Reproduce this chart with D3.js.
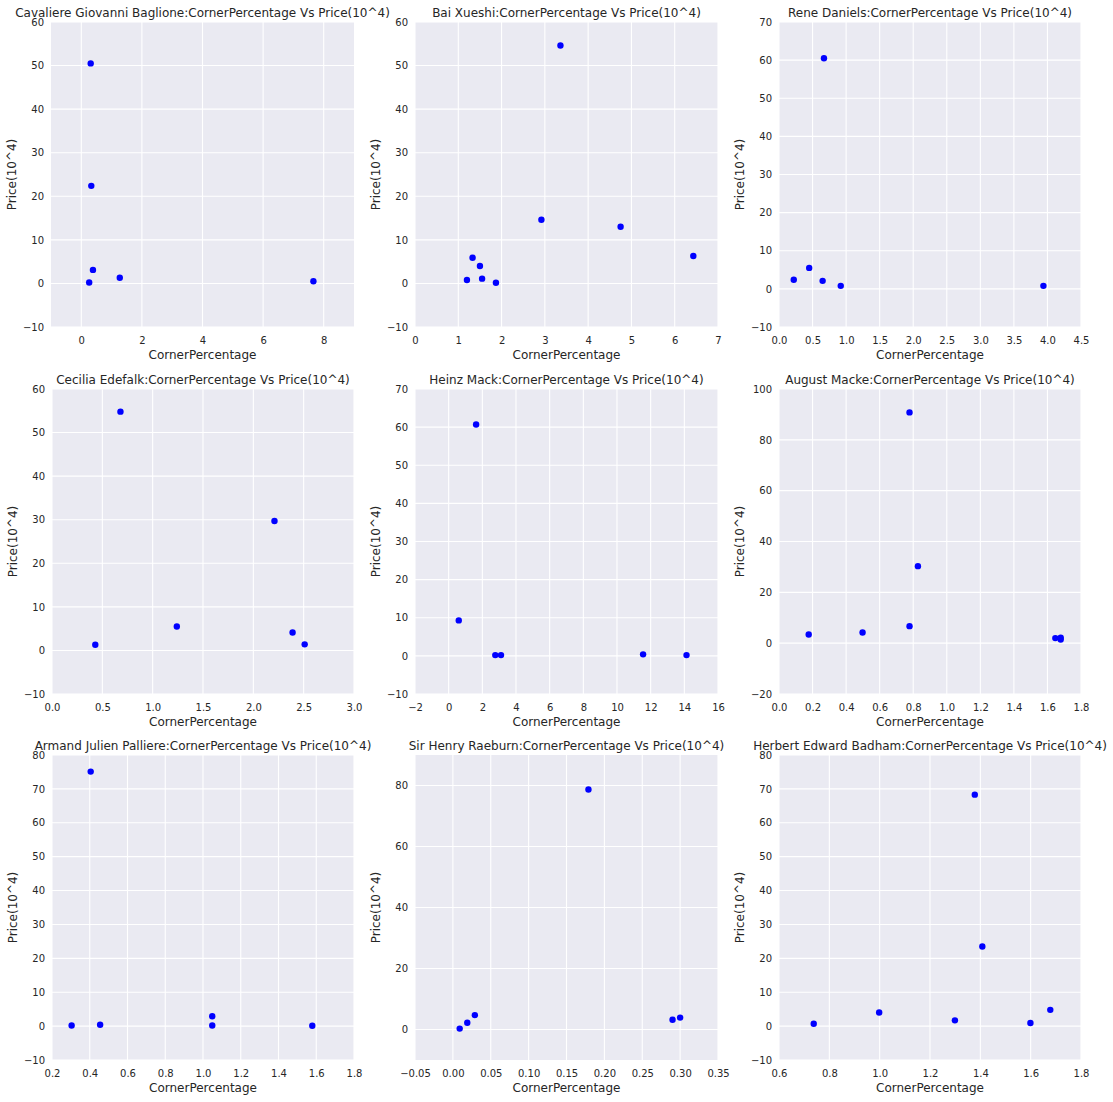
<!DOCTYPE html>
<html>
<head>
<meta charset="utf-8">
<script src="https://cdn.jsdelivr.net/npm/d3@7"></script>
<style>
  body { margin: 0; background: #fff; }
  svg text { font-family: "DejaVu Sans", sans-serif; fill: #262626; }
</style>
</head>
<body>
<svg id="chart" width="1113" height="1102"></svg>
<script>
// one entry per artist, row by row
const artists = [
  "Cavaliere Giovanni Baglione", "Bai Xueshi", "Rene Daniels",
  "Cecilia Edefalk", "Heinz Mack", "August Macke",
  "Armand Julien Palliere", "Sir Henry Raeburn", "Herbert Edward Badham"
];

const cornerPct = [
  [0.31, 0.33, 0.385, 0.26, 1.27, 7.66],
  [3.36, 2.92, 4.75, 6.43, 1.33, 1.50, 1.20, 1.55, 1.87],
  [0.67, 0.22, 0.45, 0.65, 0.92, 3.94],
  [0.68, 0.43, 1.24, 2.21, 2.39, 2.51],
  [1.63, 0.60, 2.77, 3.11, 11.55, 14.13],
  [0.778, 0.828, 0.778, 0.177, 0.498, 1.647, 1.679, 1.679],
  [0.405, 0.304, 0.455, 1.049, 1.049, 1.579],
  [0.179, 0.009, 0.019, 0.029, 0.290, 0.300],
  [1.378, 1.408, 0.738, 0.998, 1.299, 1.599, 1.678]
];

const prices = [
  [50.5, 22.4, 3.1, 0.2, 1.3, 0.5],
  [54.6, 14.6, 13.0, 6.3, 5.9, 4.0, 0.8, 1.1, 0.15],
  [60.5, 2.4, 5.5, 2.1, 0.8, 0.8],
  [54.8, 1.3, 5.5, 29.7, 4.1, 1.4],
  [60.7, 9.3, 0.2, 0.2, 0.4, 0.2],
  [90.8, 30.3, 6.7, 3.4, 4.2, 2.0, 2.2, 1.4],
  [75.1, 0.2, 0.4, 2.9, 0.2, 0.1],
  [78.7, 0.3, 2.2, 4.7, 3.2, 3.9],
  [68.3, 23.5, 0.7, 4.0, 1.7, 0.9, 4.8]
];

// axis ranges and ticks as shown in each panel
const xDomains = [[-1, 9], [0, 7], [0, 4.5], [0, 3], [-2, 16], [0, 1.8], [0.2, 1.8], [-0.05, 0.35], [0.6, 1.8]];
const yDomains = [[-10, 60], [-10, 60], [-10, 70], [-10, 60], [-10, 70], [-20, 100], [-10, 80], [-10, 90], [-10, 80]];
const xTicks = [
  [0, 2, 4, 6, 8],
  [0, 1, 2, 3, 4, 5, 6, 7],
  [0, 0.5, 1, 1.5, 2, 2.5, 3, 3.5, 4, 4.5],
  [0, 0.5, 1, 1.5, 2, 2.5, 3],
  [-2, 0, 2, 4, 6, 8, 10, 12, 14, 16],
  [0, 0.2, 0.4, 0.6, 0.8, 1, 1.2, 1.4, 1.6, 1.8],
  [0.2, 0.4, 0.6, 0.8, 1, 1.2, 1.4, 1.6, 1.8],
  [-0.05, 0, 0.05, 0.1, 0.15, 0.2, 0.25, 0.3, 0.35],
  [0.6, 0.8, 1, 1.2, 1.4, 1.6, 1.8]
];
const xTickDigits = [0, 0, 1, 1, 0, 1, 1, 2, 1];
const yTicks = [
  [-10, 0, 10, 20, 30, 40, 50, 60],
  [-10, 0, 10, 20, 30, 40, 50, 60],
  [-10, 0, 10, 20, 30, 40, 50, 60, 70],
  [-10, 0, 10, 20, 30, 40, 50, 60],
  [-10, 0, 10, 20, 30, 40, 50, 60, 70],
  [-20, 0, 20, 40, 60, 80, 100],
  [-10, 0, 10, 20, 30, 40, 50, 60, 70, 80],
  [0, 20, 40, 60, 80],
  [-10, 0, 10, 20, 30, 40, 50, 60, 70, 80]
];

// grid layout (pixels)
const colLeft = [51, 415, 779];
const colWidth = [303, 303, 302];
const rowTop = [22, 389, 755];
const plotH = 305;

const svg = d3.select("#chart");
const fmtMinus = s => s.replace("-", "\u2212");

artists.forEach((name, i) => {
  const col = i % 3, row = Math.floor(i / 3);
  const left = colLeft[col] + (col === 0 && row > 0 ? 1 : 0);
  const top = rowTop[row];
  const w = colWidth[col] - (col === 0 && row > 0 ? 1 : 0);

  const x = d3.scaleLinear().domain(xDomains[i]).range([0, w]);
  const y = d3.scaleLinear().domain(yDomains[i]).range([plotH, 0]);

  const g = svg.append("g").attr("transform", `translate(${left},${top})`);

  g.append("rect")
    .attr("width", w).attr("height", plotH)
    .attr("fill", "#EAEAF2");

  // grid lines
  g.selectAll(".vgrid").data(xTicks[i]).join("line")
    .attr("x1", d => x(d)).attr("x2", d => x(d))
    .attr("y1", 0).attr("y2", plotH)
    .attr("stroke", "#fff").attr("stroke-width", 1.1);
  g.selectAll(".hgrid").data(yTicks[i]).join("line")
    .attr("x1", 0).attr("x2", w)
    .attr("y1", d => y(d)).attr("y2", d => y(d))
    .attr("stroke", "#fff").attr("stroke-width", 1.1);

  // tick labels via d3 axes, no lines
  const xAxis = d3.axisBottom(x).tickValues(xTicks[i]).tickSize(0).tickPadding(10)
    .tickFormat(d => fmtMinus(d3.format(`.${xTickDigits[i]}f`)(d)));
  const yAxis = d3.axisLeft(y).tickValues(yTicks[i]).tickSize(0).tickPadding(7)
    .tickFormat(d => fmtMinus(d3.format("d")(d)));

  const gx = g.append("g").attr("transform", `translate(0,${plotH})`).call(xAxis);
  const gy = g.append("g").call(yAxis);
  [gx, gy].forEach(a => {
    a.select(".domain").remove();
    a.selectAll("text").attr("font-size", 10).attr("font-family", "DejaVu Sans").attr("fill", "#262626");
  });

  // points
  g.selectAll("circle.pt").data(cornerPct[i].map((v, k) => [v, prices[i][k]])).join("circle")
    .attr("class", "pt")
    .attr("cx", d => x(d[0])).attr("cy", d => y(d[1]))
    .attr("r", 3.2)
    .attr("fill", "#0000ff");

  g.append("text")
    .attr("x", w / 2).attr("y", -5)
    .attr("text-anchor", "middle").attr("font-size", 12)
    .text(`${name}:CornerPercentage Vs Price(10^4)`);

  g.append("text")
    .attr("x", w / 2).attr("y", plotH + 32)
    .attr("text-anchor", "middle").attr("font-size", 12)
    .text("CornerPercentage");

  g.append("text")
    .attr("transform", `translate(-39,${plotH / 2}) rotate(-90)`)
    .attr("text-anchor", "middle").attr("dy", "0.35em").attr("font-size", 12)
    .text("Price(10^4)");
});
</script>
</body>
</html>
